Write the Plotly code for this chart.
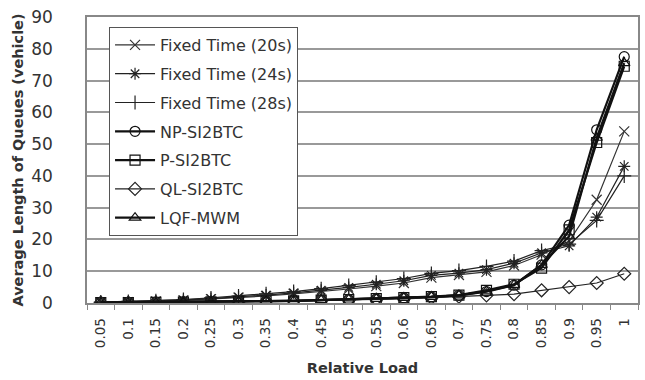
import plotly.graph_objects as go

loads = ["0.05", "0.1", "0.15", "0.2", "0.25", "0.3", "0.35", "0.4", "0.45", "0.5",
         "0.55", "0.6", "0.65", "0.7", "0.75", "0.8", "0.85", "0.9", "0.95", "1"]

fixed_20 = [0.2, 0.3, 0.5, 0.8, 1.2, 1.7, 2.2, 2.9, 3.6, 4.4, 5.3, 6.3, 8.0, 8.8, 9.8, 11.8, 15.2, 19.5, 32.5, 54.0]
fixed_24 = [0.2, 0.4, 0.6, 1.0, 1.4, 1.9, 2.5, 3.2, 4.0, 4.9, 5.9, 7.0, 8.7, 9.4, 10.5, 12.5, 15.8, 18.0, 27.0, 43.0]
fixed_28 = [0.3, 0.5, 0.7, 1.1, 1.6, 2.2, 2.9, 3.6, 4.5, 5.5, 6.5, 7.7, 9.3, 10.2, 11.5, 13.2, 16.5, 18.5, 26.0, 40.0]
np_si2btc = [0.1, 0.15, 0.2, 0.3, 0.4, 0.5, 0.6, 0.7, 0.9, 1.1, 1.3, 1.6, 1.9, 2.4, 3.6, 5.6, 12.0, 24.5, 54.5, 77.5]
p_si2btc = [0.1, 0.15, 0.2, 0.3, 0.4, 0.5, 0.6, 0.7, 0.9, 1.1, 1.4, 1.7, 2.0, 2.5, 4.0, 5.9, 11.0, 23.0, 50.5, 74.5]
ql_si2btc = [0.1, 0.1, 0.15, 0.2, 0.3, 0.4, 0.5, 0.6, 0.7, 0.9, 1.1, 1.3, 1.6, 2.0, 2.4, 2.8, 4.0, 5.0, 6.3, 9.2]
lqf_mwm = [0.1, 0.15, 0.2, 0.3, 0.4, 0.5, 0.6, 0.7, 0.9, 1.1, 1.3, 1.6, 1.9, 2.4, 3.7, 5.7, 12.0, 21.0, 52.0, 75.5]

series = [
    ("Fixed Time (20s)", fixed_20, "x-thin-open", 1.2, "#333333"),
    ("Fixed Time (24s)", fixed_24, "asterisk-open", 1.2, "#222222"),
    ("Fixed Time (28s)", fixed_28, "cross-thin-open", 1.2, "#222222"),
    ("NP-SI2BTC", np_si2btc, "circle-open", 2.2, "#111111"),
    ("P-SI2BTC", p_si2btc, "square-open", 2.2, "#111111"),
    ("QL-SI2BTC", ql_si2btc, "diamond-open", 1.2, "#222222"),
    ("LQF-MWM", lqf_mwm, "triangle-up-open", 2.2, "#111111"),
]

FONT = "DejaVu Sans"

fig = go.Figure()
for i, (name, vals, sym, lw, col) in enumerate(series):
    fig.add_trace(go.Scatter(
        x=loads, y=vals, name=name, mode="lines+markers",
        legendgroup=f"g{i}",
        line=dict(color=col, width=lw),
        marker=dict(symbol=sym, size=10, color=col, line=dict(width=1.2, color=col)),
    ))

fig.update_layout(
    width=645, height=380,
    margin=dict(l=87, r=5, t=17, b=77),
    paper_bgcolor="white", plot_bgcolor="white",
    font=dict(family=FONT, color="#333333"),
    showlegend=True,
    legend=dict(
        x=0.04, y=0.965, xanchor="left", yanchor="top",
        bordercolor="#555555", borderwidth=1, bgcolor="white",
        font=dict(size=16, color="#333333", family=FONT),
        tracegroupgap=5, itemwidth=40,
    ),
    xaxis=dict(
        type="category", range=[-0.5, len(loads) - 0.5], autorange=False,
        tickangle=-90, tickfont=dict(size=13.5, color="#333333"),
        tickson="boundaries", ticks="outside", ticklen=5, tickcolor="#888888",
        ticklabelstandoff=8,
        showline=True, linecolor="#888888", linewidth=1.5, mirror=True,
        showgrid=False,
        title=dict(text="<b>Relative Load</b>", font=dict(size=14.5, color="#333333"), standoff=16),
    ),
    yaxis=dict(
        range=[0, 90], dtick=10, tickfont=dict(size=17, color="#333333"),
        ticks="outside", ticklen=17, tickcolor="rgba(0,0,0,0)",
        ticklabelstandoff=12,
        showline=True, linecolor="#888888", linewidth=1.5, mirror=True,
        showgrid=True, gridcolor="#999999", gridwidth=1.5, zeroline=False,
        title=dict(text="<b>Average Length of Queues (vehicle)</b>", font=dict(size=14.5, color="#333333"), standoff=4),
    ),
)

fig.write_html("out.html", post_script="document.body.style.margin='0';",
               config={"displayModeBar": False})
